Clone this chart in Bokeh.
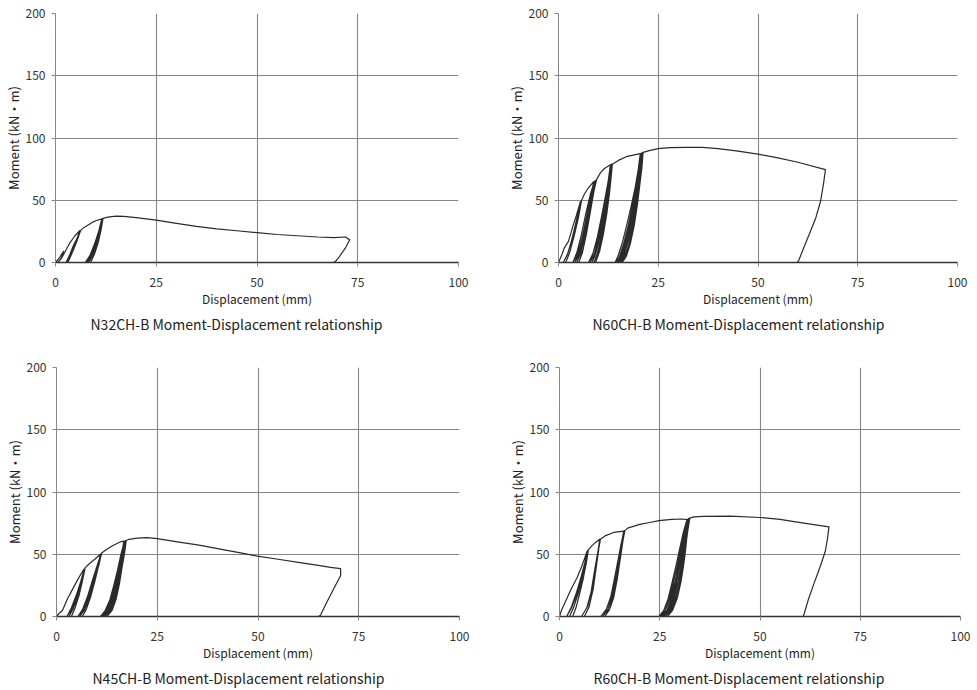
from bokeh.plotting import figure
from bokeh.layouts import column, row
from bokeh.models import Range1d, FixedTicker, Title
from bokeh.embed import file_html
from bokeh.resources import INLINE

# ---------------- data ----------------
x_ticks = [0, 25, 50, 75, 100]
y_ticks = [0, 50, 100, 150, 200]

captions = [
    "N32CH-B Moment-Displacement relationship",
    "N60CH-B Moment-Displacement relationship",
    "N45CH-B Moment-Displacement relationship",
    "R60CH-B Moment-Displacement relationship",
]

# N32CH-B
n32_disp = [0, 1, 2, 1.4, 0.6, 1.6, 2.6, 3.6, 4.6, 5.4, 6.0,
            5.1, 4.1, 3.2, 2.6, 3.5, 4.5, 5.5, 6.2,
            5.3, 4.3, 3.5, 3.0, 3.9, 4.9, 6.3,
            7, 8, 9, 10, 11.5,
            11.0, 10.1, 9.0, 8.0, 7.4, 8.6, 9.7, 10.7, 11.5,
            11.1, 10.3, 9.2, 8.3, 7.8, 8.9, 10.0, 10.9, 11.6,
            11.2, 10.4, 9.4, 8.6, 8.2, 9.3, 10.3, 11.1, 11.7,
            11.3, 10.6, 9.7, 9.0, 8.7, 9.7, 10.6, 11.3, 11.8,
            13, 15, 17, 20, 25, 30, 35, 40, 45, 50, 55, 60, 65, 69, 72,
            73, 72, 70.5, 69.5, 69]
n32_moment = [0, 4, 9, 3.5, 0, 4, 10, 16, 20.5, 23.5, 25.5,
              17, 9, 3, 0, 6, 14, 20.5, 25.5,
              17, 9, 3, 0, 7, 15, 26,
              28, 30, 32, 33.5, 35,
              26, 17, 7, 2, 0, 6, 15, 25, 35,
              26, 17, 7, 2, 0, 7, 16, 26, 35,
              26, 17, 7, 2, 0, 7, 16, 26, 35,
              26, 17, 7, 2, 0, 7, 16, 26, 35.5,
              36.5, 37.2, 37, 36, 34, 31.5, 29, 27, 25.5, 24, 22.5, 21.5, 20.5, 20, 20.5,
              18, 12, 5, 1, 0]

# N60CH-B
n60_disp = [0, 0.8, 1.5, 2.5, 3.5, 4.5, 5.5,
            4.7, 3.6, 2.3, 1.2, 2.2, 3.3, 4.5, 5.6,
            4.9, 3.9, 2.7, 1.8, 2.8, 3.9, 5.0, 5.8,
            6.5, 7.5, 8.8,
            8.1, 7.1, 6.0, 4.8, 3.6, 4.6, 5.7, 6.9, 8.0, 9.0,
            8.3, 7.4, 6.3, 5.2, 4.1, 5.1, 6.2, 7.3, 8.3, 9.2,
            8.5, 7.6, 6.6, 5.6, 4.6, 5.6, 6.6, 7.6, 8.6, 9.4,
            8.7, 7.9, 7.0, 6.0, 5.1, 6.1, 7.1, 8.0, 8.9, 9.6,
            10.5, 11.5, 13.0,
            12.4, 11.6, 10.6, 9.5, 8.4, 7.5, 8.6, 9.7, 10.8, 11.8, 12.6, 13.1,
            12.5, 11.8, 10.9, 9.8, 8.8, 7.9, 9.0, 10.1, 11.1, 12.1, 12.8, 13.2,
            12.7, 12.0, 11.1, 10.1, 9.1, 8.4, 9.4, 10.5, 11.5, 12.3, 12.9, 13.3,
            12.8, 12.1, 11.4, 10.5, 9.6, 8.9, 9.9, 10.9, 11.8, 12.6, 13.1, 13.4,
            12.9, 12.3, 11.6, 10.8, 9.9, 9.3, 10.3, 11.2, 12.1, 12.8, 13.2, 13.5,
            15, 17, 19, 20.5,
            20.0, 19.2, 18.2, 17.1, 16.0, 15.0, 14.2, 15.2, 16.2, 17.2, 18.3, 19.3, 20.0, 20.6,
            20.1, 19.4, 18.5, 17.5, 16.4, 15.4, 14.6, 15.6, 16.6, 17.6, 18.7, 19.6, 20.2, 20.7,
            20.2, 19.6, 18.8, 17.8, 16.7, 15.7, 14.9, 15.9, 16.9, 17.9, 19.0, 19.8, 20.4, 20.8,
            20.3, 19.7, 19.0, 18.1, 17.0, 16.0, 15.2, 16.2, 17.2, 18.2, 19.2, 20.0, 20.5, 21.0,
            20.5, 19.9, 19.2, 18.4, 17.4, 16.4, 15.6, 16.6, 17.6, 18.6, 19.5, 20.2, 20.7, 21.1,
            20.6, 20.1, 19.5, 18.8, 17.8, 16.8, 16.0, 17.0, 18.0, 19.0, 19.8, 20.4, 20.9, 21.2,
            23, 25, 28, 32, 36, 40, 45, 50, 55, 60, 66.9,
            66.5, 65.7, 64.5, 63.2, 61.5, 60.2, 59.8]
n60_moment = [0, 6, 12, 17, 28, 38, 49,
              35, 20, 7, 0, 6, 18, 34, 49,
              36, 21, 7, 0, 8, 21, 36, 50,
              55, 60, 65,
              52, 37, 21, 7, 0, 8, 22, 40, 55, 65,
              52, 37, 21, 7, 0, 9, 24, 41, 56, 66,
              53, 38, 22, 8, 0, 10, 25, 42, 57, 66,
              54, 39, 23, 8, 0, 10, 26, 43, 58, 67,
              72, 75.5, 78.5,
              64, 48, 32, 16, 5, 0, 7, 20, 37, 54, 68, 78.5,
              64, 48, 32, 16, 5, 0, 7, 20, 37, 55, 68, 78.5,
              64, 48, 32, 16, 5, 0, 8, 21, 38, 55, 68, 79,
              65, 49, 33, 17, 6, 0, 8, 21, 38, 55, 68, 79,
              65, 49, 33, 17, 6, 0, 9, 22, 39, 56, 69, 79,
              82, 85, 86.5, 87.5,
              75, 60, 45, 30, 16, 6, 0, 4, 12, 25, 42, 60, 75, 87.5,
              75, 60, 45, 30, 16, 6, 0, 4, 12, 26, 43, 60, 75, 87.5,
              75, 60, 45, 30, 16, 6, 0, 4, 13, 27, 44, 61, 75, 88,
              75, 60, 45, 30, 16, 6, 0, 5, 14, 28, 45, 61, 75, 88,
              75, 60, 45, 30, 16, 6, 0, 5, 14, 29, 46, 62, 76, 88.5,
              76, 61, 46, 31, 16, 6, 0, 5, 15, 30, 47, 63, 76, 88.5,
              90, 91.4, 92.2, 92.5, 92.4, 91.5, 89.5, 87, 84, 80.5, 74.6,
              65, 49.4, 36, 25.5, 12, 1.6, 0]

# N45CH-B
n45_disp = [0, 0.5, 1.5, 2.7, 4.0, 5.5, 6.8,
            6.2, 5.1, 3.8, 2.6, 3.7, 4.9, 6.0, 6.9,
            6.3, 5.3, 4.1, 3.1, 4.1, 5.2, 6.2, 7.0,
            6.4, 5.5, 4.5, 3.7, 4.6, 5.6, 6.4, 7.1,
            8.0, 9.5, 10.9,
            10.2, 9.1, 7.9, 6.6, 5.3, 6.5, 7.7, 8.9, 10.1, 11.0,
            10.3, 9.3, 8.1, 6.9, 5.8, 6.9, 8.0, 9.2, 10.2, 11.1,
            10.4, 9.5, 8.4, 7.3, 6.4, 7.4, 8.4, 9.5, 10.5, 11.2,
            12.5, 14, 15.9, 16.7,
            16.2, 15.5, 14.6, 13.6, 12.3, 10.9, 12.1, 13.2, 14.3, 15.2, 16.0, 16.8,
            16.3, 15.7, 14.9, 13.9, 12.7, 11.3, 12.5, 13.6, 14.6, 15.5, 16.2, 16.9,
            16.5, 15.9, 15.1, 14.2, 13.0, 11.6, 12.8, 13.9, 14.9, 15.8, 16.5, 17.0,
            16.6, 16.0, 15.4, 14.5, 13.4, 12.0, 13.2, 14.2, 15.2, 16.0, 16.7, 17.1,
            16.7, 16.2, 15.6, 14.8, 13.8, 12.5, 13.6, 14.6, 15.5, 16.3, 16.9, 17.3,
            18, 20, 22.5, 25, 30, 35, 40, 45, 49.8, 55, 60, 65, 68, 70.5,
            70.5, 68.8, 67, 65.5, 65]
n45_moment = [0, 2, 5, 14, 22, 31, 38,
              28, 16, 6, 0, 7, 17, 28, 38,
              28, 16, 6, 0, 7, 17, 28, 38.5,
              28, 16, 6, 0, 7, 17, 28, 39,
              42, 46, 50,
              40, 28, 15, 5, 0, 6, 16, 29, 41, 50,
              40, 28, 15, 5, 0, 6, 16, 29, 41, 50.5,
              40, 28, 15, 5, 0, 6, 17, 30, 41, 51,
              54, 57, 60, 60.5,
              50, 38, 26, 14, 5, 0, 5, 13, 26, 38, 50, 60,
              50, 38, 26, 14, 5, 0, 5, 14, 27, 39, 50, 60.5,
              50, 38, 26, 14, 5, 0, 5, 14, 27, 39, 50, 60.5,
              50, 38, 26, 14, 5, 0, 5, 15, 28, 40, 51, 61,
              50, 38, 26, 14, 5, 0, 5, 15, 28, 40, 51, 61,
              62, 63, 63.3, 62.5, 60, 57.5, 54.5, 51.5, 48.5, 46, 43.5, 41, 39.5, 38.5,
              33, 22.3, 11, 1, 0]

# R60CH-B
r60_disp = [0, 0.5, 1.5, 2.7, 4.4, 5.5, 6.3, 6.9,
            6.3, 5.4, 4.3, 3.0, 1.8, 3.0, 4.3, 5.4, 6.3, 7.0,
            6.5, 5.6, 4.6, 3.5, 2.5, 3.6, 4.7, 5.7, 6.5, 7.1,
            6.6, 5.9, 5.0, 4.1, 3.3, 4.2, 5.1, 6.0, 6.7, 7.2,
            8, 9, 10,
            9.6, 8.9, 8.1, 7.0, 5.5, 6.8, 7.9, 8.7, 9.5, 10.1,
            9.7, 9.1, 8.4, 7.4, 6.2, 7.3, 8.3, 9.0, 9.6, 10.2,
            11.5, 13.5, 16,
            15.4, 14.7, 13.8, 12.8, 11.6, 10.3, 11.7, 12.8, 13.8, 14.7, 15.4, 16.1,
            15.6, 14.9, 14.1, 13.1, 12.0, 10.8, 12.1, 13.2, 14.1, 14.9, 15.5, 16.2,
            15.7, 15.1, 14.4, 13.5, 12.4, 11.3, 12.5, 13.5, 14.4, 15.1, 15.7, 16.3,
            17, 20, 22.5, 24.8, 28, 30.5, 31.8,
            31.1, 30.3, 29.4, 28.4, 27.2, 26.0, 24.8, 25.9, 26.9, 27.9, 29.0, 30.0, 30.9, 31.8,
            31.2, 30.5, 29.7, 28.8, 27.6, 26.4, 25.2, 26.3, 27.3, 28.3, 29.4, 30.3, 31.1, 31.9,
            31.4, 30.7, 30.0, 29.1, 28.0, 26.8, 25.6, 26.7, 27.7, 28.7, 29.7, 30.6, 31.3, 32.0,
            31.5, 30.9, 30.3, 29.5, 28.4, 27.2, 26.0, 27.1, 28.1, 29.1, 30.1, 30.9, 31.5, 32.1,
            31.6, 31.1, 30.6, 29.9, 28.9, 27.7, 26.4, 27.5, 28.5, 29.5, 30.5, 31.2, 31.7, 32.3,
            31.8, 31.4, 30.9, 30.3, 29.4, 28.2, 26.9, 28.0, 29.0, 30.0, 30.9, 31.5, 32.0, 32.5,
            33.5, 36, 42.6, 50, 55, 59.3, 63, 67.2,
            66.8, 66.3, 65, 63.4, 62, 61, 60.8]
r60_moment = [0, 5, 12, 20.7, 31.3, 40, 47, 52.6,
              42, 30, 18, 7, 0, 8, 20, 32, 43, 53,
              42, 30, 18, 7, 0, 8, 20, 32, 43, 53,
              42, 30, 18, 7, 0, 8, 20, 32, 43, 53.5,
              56.5, 59.5, 62,
              52, 38, 22, 8, 0, 7, 20, 36, 51, 62,
              52, 38, 22, 8, 0, 7, 21, 36, 51, 62,
              65, 67.5, 68.5,
              58, 45, 30, 15, 5, 0, 6, 16, 32, 47, 59, 68.5,
              58, 45, 30, 15, 5, 0, 6, 16, 32, 47, 59, 69,
              58, 45, 30, 15, 5, 0, 6, 17, 33, 47, 59, 69,
              71, 74, 75.5, 77, 78, 78.3, 77.8,
              65, 52, 40, 28, 15, 5, 0, 4, 12, 25, 40, 55, 68, 78,
              65, 52, 40, 28, 15, 5, 0, 4, 13, 26, 41, 55, 68, 78,
              65, 52, 40, 28, 15, 5, 0, 4, 13, 26, 41, 56, 68, 78,
              65, 52, 40, 28, 15, 5, 0, 5, 14, 27, 42, 56, 68, 78.5,
              65, 52, 40, 28, 15, 5, 0, 5, 14, 27, 42, 56, 69, 79,
              65, 52, 40, 28, 15, 5, 0, 5, 14, 28, 43, 57, 69, 79,
              80, 80.5, 80.7, 79.5, 78, 75.8, 74, 72,
              62, 52.6, 40, 26, 13, 2, 0]

series = [(n32_disp, n32_moment), (n60_disp, n60_moment),
          (n45_disp, n45_moment), (r60_disp, r60_moment)]

# ---------------- layout (per panel borders, in pixels) ----------------
W, H = 488, 345
borders = [  # left, right, top, bottom
    (55, 30, 13, 79),
    (70, 19, 11, 83),
    (56, 29, 22, 72),
    (71, 16, 20, 74),
]
cap_offsets = [35, 34, 36, 34]

FONT = "Noto Sans CJK JP"


def make_panel(i):
    l, r, t, b = borders[i]
    p = figure(width=W, height=H, output_backend="svg", toolbar_location=None,
               x_range=Range1d(0, 100), y_range=Range1d(0, 200),
               min_border_left=l, min_border_right=r,
               min_border_top=t, min_border_bottom=b,
               background_fill_color="white", border_fill_color="white",
               outline_line_color=None)
    xs, ys = series[i]
    p.line(xs, ys, line_color="#2a2a2a", line_width=1.2, line_join="round")

    p.xaxis.ticker = FixedTicker(ticks=x_ticks)
    p.yaxis.ticker = FixedTicker(ticks=y_ticks)
    p.xaxis.axis_label = "Displacement (mm)"
    p.yaxis.axis_label = "Moment (kN・m)"
    for ax in (p.xaxis[0], p.yaxis[0]):
        ax.major_label_text_font = FONT
        ax.major_label_text_font_size = "12px"
        ax.major_label_text_color = "#333333"
        ax.axis_label_text_font = FONT
        ax.axis_label_text_font_style = "normal"
        ax.axis_label_text_color = "#222222"
        ax.minor_tick_line_color = None
        ax.major_tick_in = 0
        ax.major_tick_out = 4
        ax.major_tick_line_color = "#888888"
    p.xaxis.axis_label_text_font_size = "12px"
    p.yaxis.axis_label_text_font_size = "13px"
    p.xaxis.axis_line_color = "#333333"
    p.xaxis.axis_line_width = 1.3
    p.yaxis.axis_line_color = "#888888"
    p.xaxis.major_label_standoff = 11
    p.xaxis.axis_label_standoff = 0
    p.yaxis.major_label_standoff = 6
    p.yaxis.axis_label_standoff = 0

    p.xgrid.ticker = FixedTicker(ticks=x_ticks)
    p.ygrid.ticker = FixedTicker(ticks=y_ticks)
    for g in (p.xgrid[0], p.ygrid[0]):
        g.grid_line_color = "#858585"
        g.grid_line_width = 1.1

    cap = Title(text=captions[i], align="left", offset=cap_offsets[i],
                text_font=FONT, text_font_size="14px",
                text_font_style="normal", text_color="#222222", standoff=5)
    p.add_layout(cap, "below")
    return p


panels = [make_panel(i) for i in range(4)]
layout = column(row(panels[0], panels[1]), row(panels[2], panels[3]))

open("out.html", "w").write(file_html(layout, INLINE))
